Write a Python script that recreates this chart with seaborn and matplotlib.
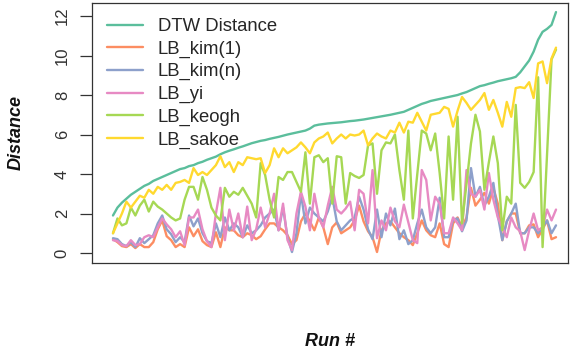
import matplotlib
matplotlib.use("Agg")
import matplotlib.pyplot as plt
import numpy as np
import pandas as pd
import seaborn as sns

# ---- data ----
dtw = [1.9, 2.3, 2.55, 2.75, 2.95, 3.1, 3.25, 3.4, 3.5, 3.65, 3.75, 3.85, 3.95, 4.05, 4.15, 4.25, 4.3, 4.4, 4.45, 4.55, 4.62, 4.72, 4.8, 4.88, 5.0,
       5.1, 5.18, 5.25, 5.33, 5.4, 5.48, 5.56, 5.62, 5.68, 5.72, 5.78, 5.83, 5.88, 5.94, 6.0, 6.05, 6.1, 6.15, 6.2, 6.3, 6.45, 6.5, 6.53, 6.56, 6.58,
       6.6, 6.62, 6.65, 6.68, 6.7, 6.73, 6.76, 6.8, 6.84, 6.88, 6.92, 6.96, 7.0, 7.05, 7.1, 7.15, 7.25, 7.35, 7.45, 7.55, 7.62, 7.7, 7.75, 7.8, 7.85,
       7.9, 7.95, 8.0, 8.08, 8.15, 8.25, 8.35, 8.45, 8.5, 8.57, 8.63, 8.7, 8.75, 8.8, 8.85, 8.92, 9.15, 9.45, 9.75, 10.2, 10.8, 11.2, 11.35, 11.55, 12.2]

lb_kim1 = [0.7, 0.55, 0.35, 0.3, 0.45, 0.25, 0.45, 0.3, 0.3, 0.55, 1.2, 1.65, 0.85, 0.65, 0.3, 0.45, 0.3, 1.3, 0.85, 1.2, 0.6, 0.4, 0.3, 1.05, 0.3,
           1.3, 1.15, 1.15, 0.9, 0.8, 1.0, 0.9, 0.7, 0.85, 1.2, 1.5, 1.5, 1.3, 1.15, 0.9, 0.45, 0.65, 1.6, 2.0, 1.6, 1.15, 1.8, 1.3, 0.45, 1.3,
           1.55, 1.0, 1.15, 1.3, 1.65, 2.4, 1.6, 1.1, 0.8, 0.05, 1.15, 1.5, 1.6, 1.3, 1.0, 0.8, 0.65, 0.4, 1.0, 1.65, 1.15, 0.9, 0.8, 1.5, 0.45,
           0.3, 1.5, 1.8, 1.3, 1.8, 3.3, 2.4, 2.7, 3.05, 2.5, 3.3, 2.5, 0.65, 1.6, 2.0, 2.0, 1.0, 1.0, 1.4, 1.45, 0.8, 1.2, 1.65, 0.7, 0.8]

lb_kimn = [0.75, 0.7, 0.45, 0.35, 0.55, 0.3, 0.75, 0.5, 0.7, 0.9, 1.5, 1.9, 1.2, 0.95, 0.55, 0.8, 0.55, 1.9, 1.35, 1.75, 1.0, 0.6, 0.5, 1.5, 0.8,
           1.8, 1.15, 1.5, 1.3, 0.8, 1.4, 1.0, 1.15, 1.4, 1.8, 2.0, 2.2, 1.15, 2.3, 0.8, 0.05, 1.0, 3.0, 1.5, 2.3, 2.0, 1.8, 1.6, 2.1, 2.85,
           1.6, 1.15, 1.4, 1.65, 1.8, 2.85, 2.2, 1.2, 0.7, 2.2, 0.8, 2.0, 1.4, 2.25, 0.7, 1.15, 0.45, 0.65, 1.5, 2.2, 1.3, 1.0, 1.3, 2.8, 0.8,
           0.8, 1.7, 1.75, 1.1, 1.65, 4.3, 2.85, 3.35, 2.4, 2.85, 3.55, 1.9, 0.65, 1.6, 2.0, 2.5, 1.0, 1.0, 1.3, 1.3, 1.0, 1.3, 1.65, 1.0, 1.4]

lb_yi = [0.65, 0.6, 0.4, 0.35, 0.65, 0.4, 0.45, 0.8, 0.9, 0.8, 1.3, 1.75, 1.45, 1.2, 0.8, 1.1, 0.4, 1.8, 1.8, 2.2, 1.2, 0.6, 0.3, 2.0, 3.3,
         0.65, 2.2, 1.15, 2.0, 0.8, 2.35, 0.65, 1.2, 2.3, 1.3, 2.0, 3.0, 1.15, 2.5, 0.65, 0.15, 2.0, 3.1, 2.35, 1.15, 3.0, 1.8, 1.3, 2.4, 3.35,
         2.2, 2.0, 2.25, 2.6, 1.15, 3.2, 3.0, 1.5, 4.2, 0.75, 1.65, 1.15, 2.3, 1.6, 1.3, 2.45, 1.55, 0.65, 0.5, 4.2, 3.7, 1.65, 2.85, 2.5, 1.0,
         1.0, 1.8, 1.5, 1.15, 4.2, 3.0, 2.85, 3.2, 2.2, 4.05, 2.7, 1.8, 1.3, 0.8, 1.8, 1.3, 1.1, 0.15, 1.15, 2.0, 1.15, 1.3, 2.2, 1.65, 2.2]

lb_keogh = [1.0, 1.75, 1.4, 1.5, 2.3, 1.9, 2.4, 2.7, 2.1, 2.6, 2.35, 2.2, 2.0, 1.8, 1.65, 1.75, 2.7, 3.35, 3.35, 2.7, 3.85, 3.2, 2.3, 1.9, 1.65,
            3.3, 2.85, 3.1, 2.95, 3.3, 2.9, 2.5, 1.8, 4.55, 3.95, 2.7, 1.8, 3.85, 3.7, 4.1, 4.1, 3.6, 3.1, 5.1, 2.5, 4.85, 4.95, 4.6, 4.8, 2.5,
            4.9, 4.85, 2.5, 4.05, 3.9, 3.8, 3.95, 5.45, 5.55, 3.0, 5.2, 5.6, 5.55, 6.0, 4.2, 2.7, 6.2, 1.75, 4.0, 6.2, 6.05, 5.2, 6.05, 4.05, 1.75,
            5.9, 2.7, 6.9, 1.5, 3.5, 5.55, 7.0, 6.15, 3.2, 4.6, 5.9, 4.55, 1.15, 2.85, 2.5, 7.5, 3.55, 3.3, 3.6, 4.1, 8.9, 0.3, 5.0, 9.8, 10.3]

lb_sakoe = [1.0, 1.5, 2.0, 2.6, 2.3, 2.6, 2.9, 2.8, 3.2, 3.0, 3.35, 3.2, 3.45, 3.2, 3.55, 3.6, 3.7, 3.55, 4.3, 3.95, 4.1, 3.95, 4.2, 4.45, 4.9,
            4.35, 4.6, 4.1, 4.6, 4.45, 4.85, 4.8, 4.75, 4.8, 4.05, 4.45, 5.3, 4.85, 5.3, 5.05, 5.2, 5.35, 5.6, 5.35, 5.05, 5.6, 5.8, 5.9, 6.1, 5.55,
            5.8, 6.0, 5.8, 6.0, 5.95, 6.0, 6.2, 5.45, 5.8, 6.05, 5.9, 5.8, 6.2, 6.1, 6.6, 6.1, 6.65, 6.6, 7.1, 6.65, 6.2, 7.0, 7.05, 7.1, 7.4,
            7.3, 6.4, 7.2, 7.9, 7.6, 7.25, 7.5, 7.75, 8.1, 7.25, 7.75, 7.1, 6.4, 7.65, 6.9, 8.35, 8.4, 8.35, 8.65, 7.85, 9.6, 9.7, 8.6, 9.85, 10.4]

series_names = ["DTW Distance", "LB_kim(1)", "LB_kim(n)", "LB_yi", "LB_keogh", "LB_sakoe"]
series_values = [dtw, lb_kim1, lb_kimn, lb_yi, lb_keogh, lb_sakoe]
colors = ["#5BBE9C", "#FC8D62", "#8DA0CB", "#E78AC3", "#A6D854", "#FFD92F"]
yticks = [0, 2, 4, 6, 8, 10, 12]

runs = np.arange(1, len(dtw) + 1)
df = pd.concat([pd.DataFrame({"run": runs, "value": v, "series": n})
                for n, v in zip(series_names, series_values)], ignore_index=True)

# ---- style ----
sns.set_theme(style="white")
plt.rcParams["font.family"] = ["Liberation Sans", "DejaVu Sans"]

W, H = 571, 356
fig = plt.figure(figsize=(W / 100, H / 100), dpi=100)
ax_l, ax_r, ax_t, ax_b = 92, 568, 3, 263
ax = fig.add_axes([ax_l / W, 1 - ax_b / H, (ax_r - ax_l) / W, (ax_b - ax_t) / H])

sns.lineplot(data=df, x="run", y="value", hue="series", hue_order=series_names,
             palette=colors, linewidth=1.7, ax=ax, legend=True)

ax.set_xlim(-3.69, 102.68)
ax.set_ylim(-0.506, 12.66)
ax.set_xticks([])
ax.set_yticks(yticks)
ax.set_yticklabels([str(t) for t in yticks])
ax.tick_params(axis="y", direction="out", length=9, width=0.9, color="#333333",
               labelsize=12, labelcolor="#333333", pad=7, left=True)
for lab in ax.get_yticklabels():
    lab.set_rotation(90)
    lab.set_va("center")
    lab.set_ha("right")
for sp in ax.spines.values():
    sp.set_visible(True)
    sp.set_color("#333333")
    sp.set_linewidth(0.9)

ax.set_xlabel("Run #", fontsize=13, fontweight="bold", fontstyle="italic", color="#111111")
ax.xaxis.set_label_coords(0.5, -(341 - ax_b) / (ax_b - ax_t))
ax.xaxis.label.set_va("center")
ax.set_ylabel("Distance", fontsize=13, fontweight="bold", fontstyle="italic", color="#111111")
ax.yaxis.set_label_coords(-(ax_l - 16) / (ax_r - ax_l), (ax_b - 133) / (ax_b - ax_t))
ax.yaxis.label.set_va("center")

handles, labels = ax.get_legend_handles_labels()
ax.legend(handles, labels, loc="upper left",
          bbox_to_anchor=(15 / (ax_r - ax_l), 1 - 15 / (ax_b - ax_t)),
          frameon=False, fontsize=13.3, handlelength=1.95, handletextpad=0.8,
          labelspacing=0.3, borderpad=0, borderaxespad=0)

fig.savefig("out.png", dpi=100)
